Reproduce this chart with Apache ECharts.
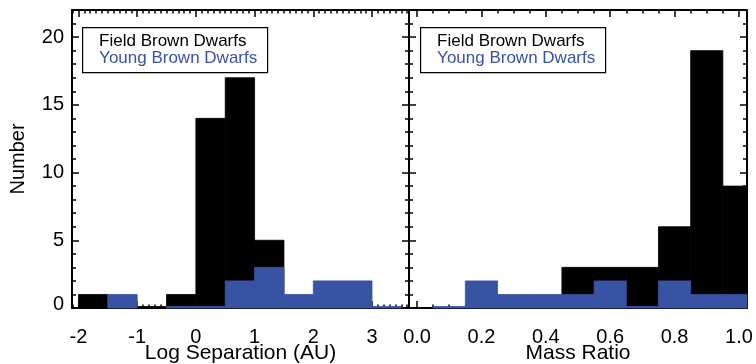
<!DOCTYPE html>
<html>
<head>
<meta charset="utf-8">
<script src="https://cdn.jsdelivr.net/npm/echarts@6/dist/echarts.min.js"></script>
<style>
html, body { margin: 0; padding: 0; background: #fff; }
#myChart { width: 756px; height: 364px; }
</style>
</head>
<body>
<div id="myChart"></div>
<script>
// histogram bins: left edge of each bin + counts
const sepWidth = 0.5
const sepFieldStart = [-2, -1.5, -1, -0.5, 0, 0.5, 1]
const sepFieldCount = [1, 0, 0, 1, 14, 17, 5]
const sepYoungStart = [-1.5, -0.5, 0, 0.5, 1, 1.5, 2, 2.5, 3]
const sepYoungCount = [1, 0, 0, 2, 3, 1, 2, 2, 0]

const qWidth = 0.1
const qFieldStart = [0.45, 0.55, 0.65, 0.75, 0.85, 0.95]
const qFieldCount = [3, 3, 3, 6, 19, 9]
const qYoungStart = [0.05, 0.15, 0.25, 0.35, 0.45, 0.55, 0.65, 0.75, 0.85, 0.95]
const qYoungCount = [0, 2, 1, 1, 1, 2, 0, 2, 1, 1]

// tick labels
const sepTicks = [-2, -1, 0, 1, 2, 3]
const qTicks = [0, 0.2, 0.4, 0.6, 0.8, 1.0]
const yTicks = [0, 5, 10, 15, 20]
const legendNames = ['Field Brown Dwarfs', 'Young Brown Dwarfs']

const BLUE = '#3953a4'
const FONT = 'Liberation Sans, Arial, Helvetica, sans-serif'

function bins (starts, counts, w) {
  return starts.map((s, i) => [s, s + w, counts[i]])
}

// minor tick positions between majors
function minorTicks (lo, hi, step, majors) {
  const out = []
  for (let i = Math.ceil(lo / step); i * step <= hi + 1e-9; i++) {
    const v = Math.round(i * step * 1000) / 1000
    if (majors.indexOf(v) < 0) out.push(v)
  }
  return out
}

function histItem (color) {
  return function (params, api) {
    const p0 = api.coord([api.value(0), 0])
    const p1 = api.coord([api.value(1), api.value(2)])
    let shape = {
      x: p0[0], y: p1[1],
      width: p1[0] - p0[0],
      height: p0[1] - p1[1]
    }
    if (api.value(2) === 0) {
      shape.y = p0[1] - 1.5
      shape.height = 1.5
    }
    shape = echarts.graphic.clipRectByRect(shape, {
      x: params.coordSys.x, y: params.coordSys.y,
      width: params.coordSys.width, height: params.coordSys.height
    })
    if (!shape) return
    // stroke in the same colour hides the seams between neighbouring bins
    return { type: 'rect', shape: shape, style: { fill: color, stroke: color, lineWidth: 0.8 } }
  }
}

const tickStyle = { color: '#000', width: 1.5 }

function xAxis (grid, pos, min, max, ticks, digits, name) {
  return {
    type: 'value', gridIndex: grid, position: pos,
    min: min, max: max,
    axisLine: { show: true, onZero: false, lineStyle: { color: '#000', width: 2 } },
    axisTick: { show: true, inside: true, length: 7, customValues: ticks, lineStyle: tickStyle },
    splitLine: { show: false },
    axisLabel: {
      show: pos === 'bottom', color: '#000', fontSize: 20, fontFamily: FONT, margin: 19,
      customValues: ticks,
      formatter: v => digits ? v.toFixed(digits) : String(v)
    },
    name: pos === 'bottom' ? name : '',
    nameLocation: 'middle', nameGap: 35, nameMoveOverlap: false,
    nameTextStyle: { color: '#000', fontSize: 21, fontFamily: FONT }
  }
}

function xMinor (grid, pos, min, max, ticks) {
  return {
    type: 'value', gridIndex: grid, position: pos,
    min: min, max: max,
    axisLine: { show: false, onZero: false },
    axisTick: { show: true, inside: true, length: 3.5, customValues: ticks, lineStyle: tickStyle },
    axisLabel: { show: false },
    splitLine: { show: false }
  }
}

function yAxis (grid, pos, labels) {
  return {
    type: 'value', gridIndex: grid, position: pos,
    min: 0, max: 22, interval: 5,
    axisLine: { show: true, onZero: false, lineStyle: { color: '#000', width: 2 } },
    axisTick: { show: true, inside: true, length: 7, lineStyle: tickStyle },
    minorTick: { show: true, splitNumber: 5, length: 4, lineStyle: tickStyle },
    splitLine: { show: false },
    axisLabel: {
      show: labels, color: '#000', fontSize: 20, fontFamily: FONT, margin: 8,
      customValues: yTicks,
      formatter: v => v === yTicks[0] ? '{lo|' + v + '}' : String(v),
      rich: { lo: { fontSize: 20, fontFamily: FONT, color: '#000', padding: [0, 0, 7, 0] } }
    },
    name: labels ? 'Number' : '',
    nameLocation: 'middle', nameGap: 44, nameRotate: 90, nameMoveOverlap: false,
    nameTextStyle: { color: '#000', fontSize: 20, fontFamily: FONT }
  }
}

function legendBox (x) {
  return {
    type: 'group', left: x, top: 27,
    children: [
      { type: 'rect', shape: { x: 0.5, y: 0.5, width: 185, height: 45 },
        style: { fill: '#fff', stroke: '#000', lineWidth: 1.2 } },
      { type: 'text', x: 17, y: 14, style: { text: legendNames[0], fill: '#000', font: '17px ' + FONT, verticalAlign: 'middle' } },
      { type: 'text', x: 17, y: 31, style: { text: legendNames[1], fill: BLUE, font: '17px ' + FONT, verticalAlign: 'middle' } }
    ]
  }
}

const sepMin = -2.11, sepMax = 3.63
const qMin = -0.025, qMax = 1.025
const sepMinor = minorTicks(sepMin, sepMax, 0.1, sepTicks)
const qMinor = minorTicks(qMin, qMax, 0.05, qTicks)

let myChart = echarts.init(document.getElementById('myChart'))
myChart.setOption({
  backgroundColor: '#fff',
  animation: false,
  grid: [
    { left: 72, top: 10, width: 337, height: 298, outerBoundsMode: 'none', containLabel: false },
    { left: 409, top: 10, width: 338, height: 298, outerBoundsMode: 'none', containLabel: false }
  ],
  xAxis: [
    xAxis(0, 'bottom', sepMin, sepMax, sepTicks, 0, 'Log Separation (AU)'),
    xAxis(0, 'top', sepMin, sepMax, sepTicks, 0, ''),
    xAxis(1, 'bottom', qMin, qMax, qTicks, 1, 'Mass Ratio'),
    xAxis(1, 'top', qMin, qMax, qTicks, 1, ''),
    xMinor(0, 'bottom', sepMin, sepMax, sepMinor),
    xMinor(0, 'top', sepMin, sepMax, sepMinor),
    xMinor(1, 'bottom', qMin, qMax, qMinor),
    xMinor(1, 'top', qMin, qMax, qMinor)
  ],
  yAxis: [
    yAxis(0, 'left', true),
    yAxis(0, 'right', false),
    yAxis(1, 'left', false),
    yAxis(1, 'right', false)
  ],
  series: [
    { name: legendNames[0], type: 'custom', xAxisIndex: 0, yAxisIndex: 0,
      renderItem: histItem('#000'), data: bins(sepFieldStart, sepFieldCount, sepWidth), z: 1 },
    { name: legendNames[1], type: 'custom', xAxisIndex: 0, yAxisIndex: 0,
      renderItem: histItem(BLUE), data: bins(sepYoungStart, sepYoungCount, sepWidth), z: 2 },
    { name: legendNames[0], type: 'custom', xAxisIndex: 2, yAxisIndex: 2,
      renderItem: histItem('#000'), data: bins(qFieldStart, qFieldCount, qWidth), z: 1 },
    { name: legendNames[1], type: 'custom', xAxisIndex: 2, yAxisIndex: 2,
      renderItem: histItem(BLUE), data: bins(qYoungStart, qYoungCount, qWidth), z: 2 }
  ],
  graphic: [legendBox(82), legendBox(420)]
})
</script>
</body>
</html>
